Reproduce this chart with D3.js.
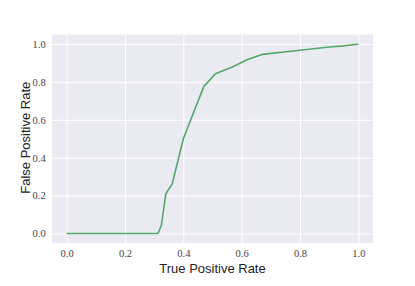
<!DOCTYPE html>
<html>
<head>
<meta charset="utf-8">
<script src="https://cdn.jsdelivr.net/npm/d3@7"></script>
<style>
  body { margin: 0; background: #fff; }
</style>
</head>
<body>
<div id="chart"></div>
<script>
// ROC-style curve
const tpr = [0, 0.31, 0.315, 0.325, 0.34, 0.362, 0.40, 0.47, 0.51, 0.57, 0.62, 0.67, 0.80, 0.90, 0.95, 1.0];
const fpr = [0, 0, 0.005, 0.045, 0.21, 0.262, 0.50, 0.775, 0.843, 0.88, 0.918, 0.945, 0.967, 0.984, 0.99, 1.0];
const ticks = [0, 0.2, 0.4, 0.6, 0.8, 1.0];

const width = 415, height = 286;
const margin = {top: 34.5, right: 42, bottom: 43, left: 52};
const w = width - margin.left - margin.right;
const h = height - margin.top - margin.bottom;

const svg = d3.select('#chart').append('svg')
    .attr('width', width)
    .attr('height', height);
const g = svg.append('g')
    .attr('transform', `translate(${margin.left}, ${margin.top})`);

const x = d3.scaleLinear().domain([-0.05, 1.05]).range([0, w]);
const y = d3.scaleLinear().domain([-0.05, 1.05]).range([h, 0]);

// background
g.append('rect')
  .attr('width', w)
  .attr('height', h)
  .attr('fill', '#eaeaf2');

// grid + tick labels via axes
const fmt = d3.format('.1f');
const tickFont = '"Liberation Serif", "Times New Roman", serif';
g.append('g')
  .attr('transform', `translate(0, ${h})`)
  .call(d3.axisBottom(x).tickValues(ticks).tickFormat(fmt).tickSize(-h).tickPadding(7))
  .call(a => a.select('.domain').remove())
  .call(a => a.selectAll('line').attr('stroke', '#fff').attr('stroke-width', 1))
  .call(a => a.selectAll('text')
      .attr('font-family', tickFont)
      .attr('font-size', '10.5px')
      .attr('fill', '#444'));

g.append('g')
  .call(d3.axisLeft(y).tickValues(ticks).tickFormat(fmt).tickSize(-w).tickPadding(6.3))
  .call(a => a.select('.domain').remove())
  .call(a => a.selectAll('line').attr('stroke', '#fff').attr('stroke-width', 1))
  .call(a => a.selectAll('text')
      .attr('font-family', tickFont)
      .attr('font-size', '10.5px')
      .attr('fill', '#444'));

// the curve
const line = d3.line()
  .x((d, i) => x(tpr[i]))
  .y(d => y(d));

g.append('path')
  .datum(fpr)
  .attr('d', line)
  .attr('fill', 'none')
  .attr('stroke', '#55a868')
  .attr('stroke-width', 1.6)
  .attr('stroke-linejoin', 'round');

// axis titles
g.append('text')
  .attr('x', w / 2)
  .attr('y', h + 29.5)
  .attr('text-anchor', 'middle')
  .attr('font-family', '"Liberation Sans", Arial, sans-serif')
  .attr('font-size', '13px')
  .attr('fill', '#222')
  .text('True Positive Rate');

g.append('text')
  .attr('transform', `translate(${-22.5}, ${h / 2 - 1}) rotate(-90)`)
  .attr('text-anchor', 'middle')
  .attr('font-family', '"Liberation Sans", Arial, sans-serif')
  .attr('font-size', '13px')
  .attr('fill', '#222')
  .text('False Positive Rate');
</script>
</body>
</html>
